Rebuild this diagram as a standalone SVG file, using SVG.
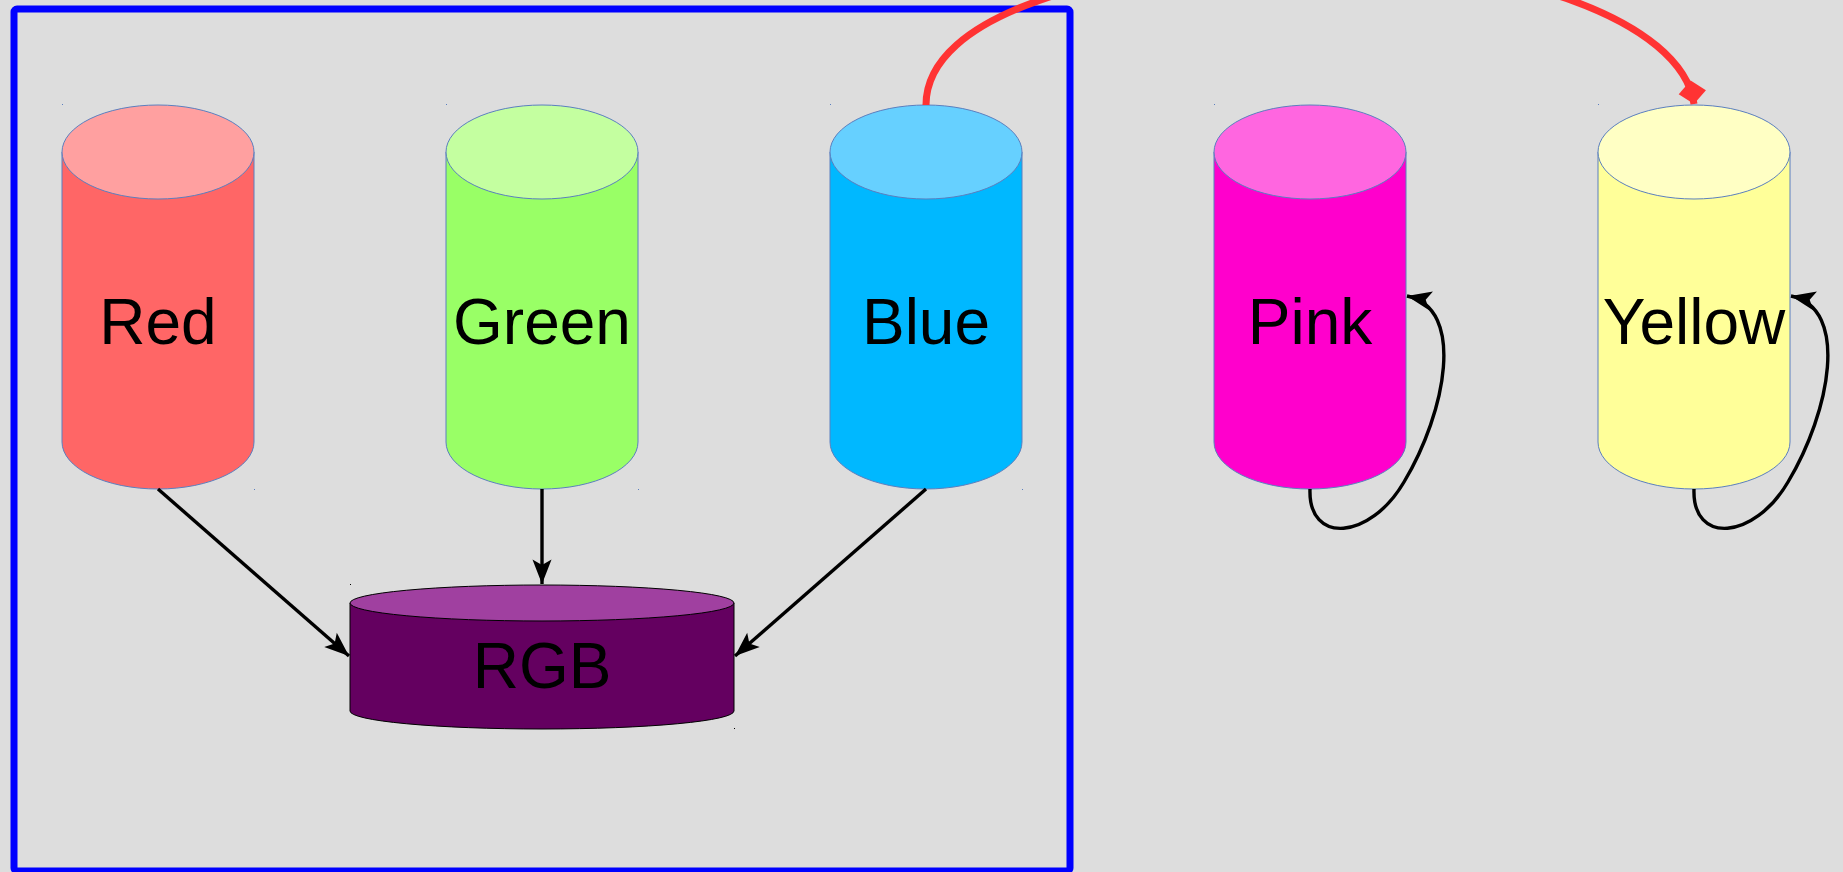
<svg xmlns="http://www.w3.org/2000/svg" width="1843" height="872" viewBox="0 0 1843 872">
<style>
.cyl{stroke:#5b7fbf;stroke-width:1}
.lbl{font-family:"Liberation Sans",Arial,sans-serif;font-size:64px;fill:#000;text-anchor:middle}
.edge{fill:none;stroke:#000;stroke-width:3.4}
.dot{fill:#5b7fbf}
</style>
<defs>
<marker id="arr" markerUnits="userSpaceOnUse" markerWidth="30" markerHeight="30" refX="0" refY="0" viewBox="-20 -10 22 20" orient="auto" overflow="visible">
<path d="M0,0 L-18,-7 L-14,0 L-18,7 Z" fill="#000"/>
</marker>
<marker id="dia" markerUnits="userSpaceOnUse" markerWidth="30" markerHeight="30" refX="0" refY="0" viewBox="-22 -12 24 24" orient="auto" overflow="visible">
<path d="M0,0 L-9.5,-11 L-19,0 L-9.5,11 Z" fill="#ff3333"/>
</marker>
</defs>
<rect width="1843" height="872" fill="#dddddd"/>
<rect id="frame" x="14" y="9" width="1056" height="862" rx="3" fill="none" stroke="#0000ff" stroke-width="7"/>

<g id="node-red">
<path class="cyl" d="M62,152 L62,442 A96,47 0 0 0 254,442 L254,152 Z" fill="#ff6666"/>
<ellipse class="cyl" cx="158" cy="152" rx="96" ry="47" fill="#ffa0a0"/>
<text class="lbl" x="158" y="344">Red</text>
<rect class="dot" x="62" y="104" width="1" height="1"/><rect class="dot" x="254" y="489" width="1" height="1"/>
</g>
<g id="node-green">
<path class="cyl" d="M446,152 L446,442 A96,47 0 0 0 638,442 L638,152 Z" fill="#99ff66"/>
<ellipse class="cyl" cx="542" cy="152" rx="96" ry="47" fill="#c4ffa0"/>
<text class="lbl" x="542" y="344">Green</text>
<rect class="dot" x="446" y="104" width="1" height="1"/><rect class="dot" x="638" y="489" width="1" height="1"/>
</g>
<g id="node-blue">
<path class="cyl" d="M830,152 L830,442 A96,47 0 0 0 1022,442 L1022,152 Z" fill="#00b8ff"/>
<ellipse class="cyl" cx="926" cy="152" rx="96" ry="47" fill="#66d0ff"/>
<text class="lbl" x="926" y="344">Blue</text>
<rect class="dot" x="830" y="104" width="1" height="1"/><rect class="dot" x="1022" y="489" width="1" height="1"/>
</g>
<g id="node-pink">
<path class="cyl" d="M1214,152 L1214,442 A96,47 0 0 0 1406,442 L1406,152 Z" fill="#ff00cc"/>
<ellipse class="cyl" cx="1310" cy="152" rx="96" ry="47" fill="#ff66e0"/>
<text class="lbl" x="1310" y="344">Pink</text>
<rect class="dot" x="1214" y="104" width="1" height="1"/>
</g>
<g id="node-yellow">
<path class="cyl" d="M1598,152 L1598,442 A96,47 0 0 0 1790,442 L1790,152 Z" fill="#ffff99"/>
<ellipse class="cyl" cx="1694" cy="152" rx="96" ry="47" fill="#ffffc4"/>
<text class="lbl" x="1694" y="344">Yellow</text>
<rect class="dot" x="1598" y="104" width="1" height="1"/>
</g>
<g id="node-rgb">
<path d="M350,603 L350,711 A192,18 0 0 0 734,711 L734,603 Z" fill="#640060" stroke="#000" stroke-width="1"/>
<ellipse cx="542" cy="603" rx="192" ry="18" fill="#a040a0" stroke="#000" stroke-width="1"/>
<text class="lbl" x="542" y="688">RGB</text>
<rect x="350" y="584" width="1" height="1" fill="#000"/><rect x="734" y="728" width="1" height="1" fill="#000"/>
</g>

<g id="connectors">
<path class="edge" d="M158,489 L349,656" marker-end="url(#arr)"/>
<path class="edge" d="M542,489 L542,584" marker-end="url(#arr)"/>
<path class="edge" d="M926,489 L735,656" marker-end="url(#arr)"/>
<path class="edge" d="M1310,489 C1308,545 1370,540 1404,482 C1446,412 1466,308 1407,296" marker-end="url(#arr)"/>
<path class="edge" d="M1694,489 C1692,545 1754,540 1788,482 C1830,412 1850,308 1791,296" marker-end="url(#arr)"/>
<path d="M926,105 C926,15 1100,-35 1305,-40 C1510,-40 1682,20 1694,104" fill="none" stroke="#ff3333" stroke-width="7" marker-end="url(#dia)"/>
</g>
</svg>
